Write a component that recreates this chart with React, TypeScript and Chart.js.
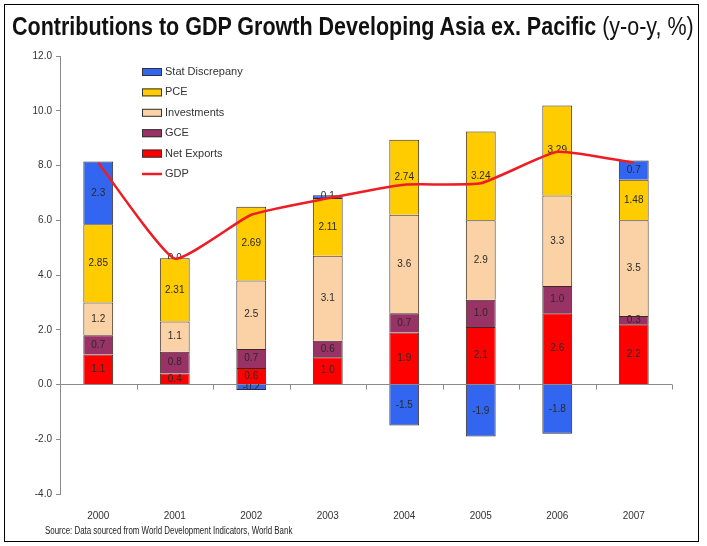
import React, { useEffect, useRef } from "react";
import { Chart, registerables } from "chart.js";

Chart.register(...registerables);

const years = ["2000", "2001", "2002", "2003", "2004", "2005", "2006", "2007"];
const netExports = [1.1, 0.4, 0.6, 1.0, 1.9, 2.1, 2.6, 2.2];
const gce = [0.7, 0.8, 0.7, 0.6, 0.7, 1.0, 1.0, 0.3];
const investments = [1.2, 1.1, 2.5, 3.1, 3.6, 2.9, 3.3, 3.5];
const pce = [2.85, 2.31, 2.69, 2.11, 2.74, 3.24, 3.29, 1.48];
const statDiscrepancy = [2.3, 0.0, -0.2, 0.1, -1.5, -1.9, -1.8, 0.7];
const gdp = [8.1, 4.6, 6.2, 6.8, 7.3, 7.35, 8.5, 8.1];
const yTicks = [-4, -2, 0, 2, 4, 6, 8, 10, 12];

const titleBold = "Contributions to GDP Growth Developing Asia ex. Pacific";
const titleNormal = " (y-o-y, %)";
const sourceText = "Source: Data sourced from World Development Indicators, World Bank";

const COLORS = {
  stat: "#3366F0",
  pce: "#FFCC00",
  inv: "#FAD2A6",
  gce: "#993366",
  nx: "#FF0000",
  gdp: "#EE1C25",
};

const fmt = (v: number) => {
  const isOne = Math.abs(v * 10 - Math.round(v * 10)) < 1e-9;
  return isOne ? v.toFixed(1) : v.toFixed(2);
};

const barLabelPlugin = {
  id: "barLabels",
  afterDatasetDraw(chart: any, args: any) {
    const meta = args.meta;
    if (meta.type !== "bar") return;
    const ds = chart.data.datasets[args.index];
    const ctx = chart.ctx;
    ctx.save();
    ctx.font = "10px Arial, 'Liberation Sans', sans-serif";
    ctx.fillStyle = "#2a2a2a";
    ctx.textAlign = "center";
    ctx.textBaseline = "middle";
    meta.data.forEach((el: any, i: number) => {
      const v = ds.data[i];
      const y = (el.y + el.base) / 2;
      ctx.fillText(fmt(v), el.x, y);
    });
    ctx.restore();
  },
};

const decorPlugin = {
  id: "decor",
  afterDraw(chart: any) {
    const ctx = chart.ctx;
    const area = chart.chartArea;
    const yScale = chart.scales.y;
    const y0 = yScale.getPixelForValue(0);
    const n = chart.data.labels.length;
    const step = (area.right - area.left) / n;
    ctx.save();
    ctx.strokeStyle = "#888";
    ctx.lineWidth = 1;
    for (let i = 1; i <= n; i++) {
      const x = Math.round(area.left + i * step) + 0.5;
      ctx.beginPath();
      ctx.moveTo(x, y0);
      ctx.lineTo(x, y0 + 5);
      ctx.stroke();
    }
    // legend
    const order = [4, 3, 2, 1, 0, 5];
    const lx = 142;
    let ly = 72;
    ctx.font = "11px Arial, 'Liberation Sans', sans-serif";
    ctx.textBaseline = "middle";
    ctx.textAlign = "left";
    order.forEach((idx) => {
      const ds = chart.data.datasets[idx];
      if (ds.type === "line") {
        ctx.strokeStyle = ds.borderColor;
        ctx.lineWidth = 2.5;
        ctx.beginPath();
        ctx.moveTo(lx, ly);
        ctx.lineTo(lx + 20, ly);
        ctx.stroke();
      } else {
        ctx.fillStyle = ds.backgroundColor;
        ctx.fillRect(lx, ly - 4, 20, 8);
        ctx.strokeStyle = "#333";
        ctx.lineWidth = 1;
        ctx.strokeRect(lx + 0.5, ly - 3.5, 19, 7);
      }
      ctx.fillStyle = "#333";
      ctx.fillText(ds.label, lx + 23, ly);
      ly += 20.4;
    });
    ctx.restore();
  },
};

export default function App() {
  const ref = useRef<HTMLCanvasElement | null>(null);

  useEffect(() => {
    if (!ref.current) return;
    const barCommon = {
      type: "bar" as const,
      borderColor: "#3a2a20",
      borderWidth: 1,
      order: 1,
      stack: "s",
      categoryPercentage: 1,
      barPercentage: 0.39,
    };
    const chart = new Chart(ref.current, {
      type: "bar",
      data: {
        labels: years,
        datasets: [
          { ...barCommon, label: "Net Exports", data: netExports, backgroundColor: COLORS.nx },
          { ...barCommon, label: "GCE", data: gce, backgroundColor: COLORS.gce },
          { ...barCommon, label: "Investments", data: investments, backgroundColor: COLORS.inv },
          { ...barCommon, label: "PCE", data: pce, backgroundColor: COLORS.pce },
          { ...barCommon, label: "Stat Discrepany", data: statDiscrepancy, backgroundColor: COLORS.stat },
          {
            type: "line",
            label: "GDP",
            data: gdp,
            borderColor: COLORS.gdp,
            backgroundColor: COLORS.gdp,
            borderWidth: 2.5,
            pointRadius: 0,
            tension: 0.15,
            order: 0,
            stack: "line",
          } as any,
        ],
      },
      options: {
        responsive: false,
        animation: false,
        layout: { padding: { left: 0, top: 56, right: 35, bottom: 0 } },
        plugins: {
          legend: { display: false },
          tooltip: { enabled: false },
          title: { display: false },
        },
        scales: {
          x: {
            stacked: true,
            grid: { display: false },
            border: { display: false },
            ticks: {
              color: "#333",
              font: { size: 10, family: "Arial, 'Liberation Sans', sans-serif" },
              padding: 8,
            },
            afterFit: (s: any) => {
              s.height = 52;
            },
          },
          y: {
            stacked: true,
            min: -4,
            max: 12,
            afterBuildTicks: (s: any) => {
              s.ticks = yTicks.map((v) => ({ value: v }));
            },
            ticks: {
              color: "#333",
              font: { size: 10, family: "Arial, 'Liberation Sans', sans-serif" },
              padding: 4,
              callback: (v: any) => Number(v).toFixed(1),
            },
            grid: {
              color: (c: any) => (c.tick && c.tick.value === 0 ? "#8a8a8a" : "rgba(0,0,0,0)"),
              tickColor: "#8a8a8a",
              tickLength: 4,
              lineWidth: 1,
            },
            border: { color: "#8a8a8a", width: 1 },
            afterFit: (s: any) => {
              s.width = 60;
            },
          },
        },
      },
      plugins: [barLabelPlugin, decorPlugin],
    } as any);
    return () => chart.destroy();
  }, []);

  return (
    <div style={{ position: "absolute", left: 0, top: 0, width: 707, height: 546, background: "#fff", overflow: "hidden" }}>
      <canvas ref={ref} width={707} height={546} style={{ position: "absolute", left: 0, top: 0, width: 707, height: 546 }} />
      <div
        style={{
          position: "absolute",
          left: 12,
          top: 11,
          whiteSpace: "nowrap",
          fontFamily: "Arial, 'Liberation Sans', sans-serif",
          fontSize: 25,
          color: "#111",
          lineHeight: "30px",
          transform: "scaleX(0.86)",
          transformOrigin: "0 0",
        }}
      >
        <span style={{ fontWeight: "bold" }}>{titleBold}</span>
        <span>{titleNormal}</span>
      </div>
      <div
        style={{
          position: "absolute",
          left: 45,
          top: 524,
          whiteSpace: "nowrap",
          fontFamily: "Arial, 'Liberation Sans', sans-serif",
          fontSize: 10,
          color: "#222",
          lineHeight: "14px",
          transform: "scaleX(0.79)",
          transformOrigin: "0 0",
        }}
      >
        {sourceText}
      </div>
      <div
        style={{
          position: "absolute",
          left: 4,
          top: 4,
          width: 695,
          height: 538,
          border: "1.5px solid #000",
          boxSizing: "border-box",
          pointerEvents: "none",
        }}
      />
    </div>
  );
}
